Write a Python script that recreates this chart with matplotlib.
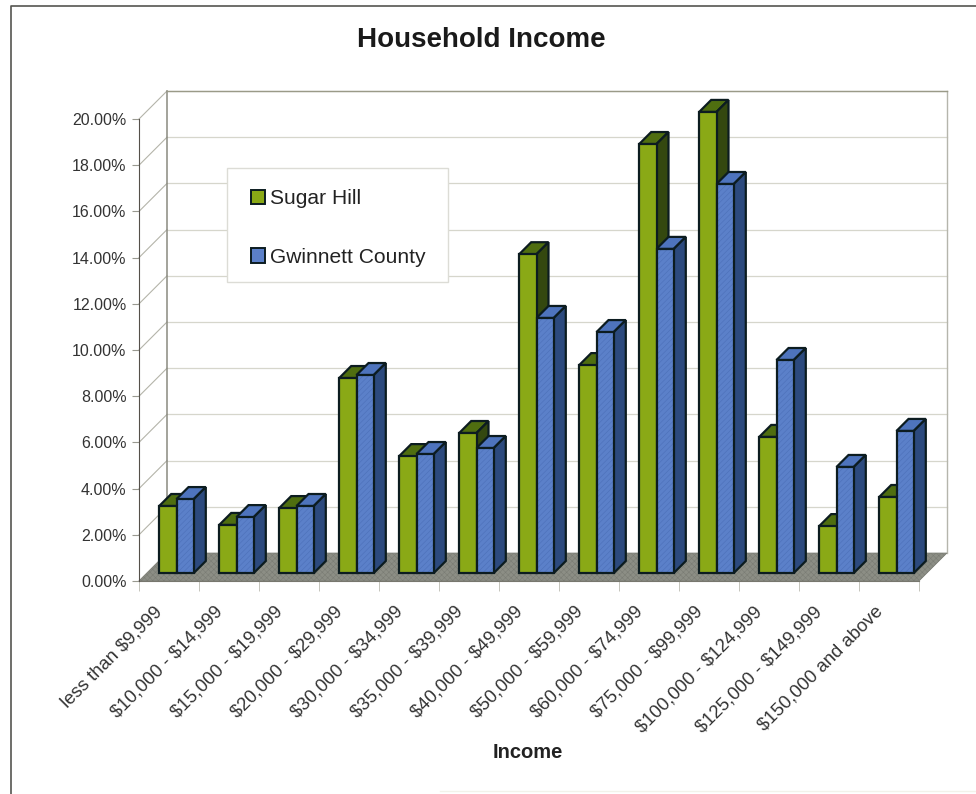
import matplotlib
matplotlib.use('Agg')
import matplotlib.pyplot as plt
from matplotlib.patches import Polygon, Patch, Rectangle
from matplotlib.transforms import Affine2D
import numpy as np

plt.rcParams['font.family'] = ['Liberation Sans', 'DejaVu Sans']
plt.rcParams['hatch.linewidth'] = 0.4
plt.rcParams['text.parse_math'] = False

categories = ['less than $9,999', '$10,000 - $14,999', '$15,000 - $19,999',
              '$20,000 - $29,999', '$30,000 - $34,999', '$35,000 - $39,999',
              '$40,000 - $49,999', '$50,000 - $59,999', '$60,000 - $74,999',
              '$75,000 - $99,999', '$100,000 - $124,999', '$125,000 - $149,999',
              '$150,000 and above']
sugar_hill = [2.9, 2.08, 2.81, 8.44, 5.06, 6.06, 13.8, 9.0, 18.57, 19.96, 5.89, 2.03, 3.29]
gwinnett = [3.2, 2.42, 2.9, 8.57, 5.15, 5.41, 11.04, 10.43, 14.03, 16.84, 9.22, 4.59, 6.15]
y_ticks = [0, 2, 4, 6, 8, 10, 12, 14, 16, 18, 20]

W, H = 976, 794
fig = plt.figure(figsize=(W / 100, H / 100), dpi=100, facecolor='white')

# axes is the front plane of the fake 3D box
left, right, bottom, top = 139, 919, 581, 119
ax = fig.add_axes([left / W, 1 - bottom / H, (right - left) / W, (bottom - top) / H])
ax.set_xlim(0, 13)
ax.set_ylim(0, 20)
ax.patch.set_visible(False)

# pixels -> data units, the depth is done in data units
px_x = 13 / (right - left)
px_y = 20 / (bottom - top)
wall_dx, wall_dy = 28 * px_x, 28 * px_y
bar_tr = ax.transData + Affine2D().translate(7.5, 8)
side_dx, side_dy = 12 * px_x, 12 * px_y

grid_col = '#d6d6cc'
edge_col = '#0c1c20'
green, blue = '#8aa916', '#5b80c9'
edge_lw = 1.6

# back wall and side wall
for y in y_ticks[1:]:
    ax.plot([wall_dx, 13 + wall_dx], [y + wall_dy, y + wall_dy], color=grid_col, lw=0.9, clip_on=False, zorder=1)
for y in y_ticks:
    ax.plot([0, wall_dx], [y, y + wall_dy], color='#b4b4aa', lw=0.8, clip_on=False, zorder=1)
ax.plot([wall_dx, wall_dx], [wall_dy, 20 + wall_dy], color='#8a8a80', lw=1.1, clip_on=False, zorder=1)
ax.plot([13 + wall_dx, 13 + wall_dx], [wall_dy, 20 + wall_dy], color='#b5b5ac', lw=1, clip_on=False, zorder=1)
ax.plot([wall_dx, 13 + wall_dx], [20 + wall_dy, 20 + wall_dy], color='#9a9a88', lw=1, clip_on=False, zorder=1)

# floor
floor = Polygon([(0, 0), (13, 0), (13 + wall_dx, wall_dy), (wall_dx, wall_dy)], closed=True,
                facecolor='#8c8e85', edgecolor='#7a7c74', hatch='xxxxxx', lw=0.5, clip_on=False, zorder=2)
ax.add_patch(floor)

# bars, drawn from the back of the picture to the front
x = np.arange(len(categories))
bar_w = 17.3 * px_x
for i in x:
    g, b = sugar_hill[i], gwinnett[i]
    x0 = i + 0.5 - bar_w
    x1 = i + 0.5
    x2 = i + 0.5 + bar_w
    kw = dict(edgecolor=edge_col, lw=edge_lw, closed=True, clip_on=False, transform=bar_tr, zorder=3 + i * 0.01)
    ax.add_patch(Polygon([(x1, g), (x1 + side_dx, g + side_dy), (x0 + side_dx, g + side_dy), (x0, g)],
                         facecolor='#4f6e10', **kw))
    ax.add_patch(Polygon([(x1, 0), (x1 + side_dx, side_dy), (x1 + side_dx, g + side_dy), (x1, g)],
                         facecolor='#34480f', **kw))
    ax.add_patch(Polygon([(x2, b), (x2 + side_dx, b + side_dy), (x1 + side_dx, b + side_dy), (x1, b)],
                         facecolor='#4e74bd', **kw))
    ax.add_patch(Polygon([(x2, 0), (x2 + side_dx, side_dy), (x2 + side_dx, b + side_dy), (x2, b)],
                         facecolor='#2c4a7e', **kw))
ax.bar(x + 0.5 - bar_w / 2, sugar_hill, bar_w, color=green, edgecolor=edge_col, lw=edge_lw,
       transform=bar_tr, clip_on=False, zorder=3.5)
# fine texture on the blue fronts, outline goes on top
ax.bar(x + 0.5 + bar_w / 2, gwinnett, bar_w, color=blue, edgecolor='#4c70b8', lw=0,
       hatch='//////', transform=bar_tr, clip_on=False, zorder=3.6)
ax.bar(x + 0.5 + bar_w / 2, gwinnett, bar_w, fill=False, edgecolor=edge_col, lw=edge_lw,
       transform=bar_tr, clip_on=False, zorder=3.7)

# axes
for s in ['top', 'right']:
    ax.spines[s].set_visible(False)
ax.spines['left'].set_color('#55504a')
ax.spines['bottom'].set_color('#77776e')
ax.spines['left'].set_zorder(4)
ax.set_yticks(y_ticks)
ax.set_yticklabels(['%.2f%%' % v for v in y_ticks], fontsize=11.5, color='#333333')
ax.tick_params(axis='y', length=5, color='#999990', pad=4)
ax.set_xticks(np.arange(14), minor=True)
ax.tick_params(axis='x', which='minor', length=7, color='#bbbbb2')
ax.set_xticks(x + 0.5)
ax.set_xticklabels(categories, fontsize=13.3, color='#333333', rotation=45, ha='right',
                   rotation_mode='anchor')
ax.tick_params(axis='x', which='major', length=0, pad=16)
for lab in ax.get_xticklabels():
    lab.set_transform(lab.get_transform() + Affine2D().translate(-15, 0))

fig.text(481 / W, 1 - 40 / H, 'Household Income', fontsize=20, fontweight='bold', color='#1a1a1a',
         ha='center', va='center')
fig.text(528 / W, 1 - 753 / H, 'Income', fontsize=14.5, fontweight='bold', color='#222222',
         ha='center', va='center')

# legend, the box is a separate patch because it is tighter than the legend pads
fig.add_artist(Rectangle((227 / W, 1 - 282 / H), 221 / W, 114 / H, transform=fig.transFigure,
                         facecolor='white', edgecolor='#dcdcd6', lw=1, zorder=4))
handles = [Patch(facecolor=green, edgecolor=edge_col, lw=1.4, label='Sugar Hill'),
           Patch(facecolor=blue, edgecolor=edge_col, lw=1.4, label='Gwinnett County')]
leg = fig.legend(handles=handles, loc='upper left', bbox_to_anchor=(228 / W, 1 - 166 / H),
                 borderaxespad=0, fontsize=15.1, frameon=False, handlelength=0.66, handleheight=0.66,
                 handletextpad=0.25, labelspacing=1.9, borderpad=1.1, labelcolor='#222222')
leg.set_zorder(5)

# page border
border = fig.add_axes([0, 0, 1, 1], zorder=-1)
border.set_xlim(0, W)
border.set_ylim(H, 0)
border.axis('off')
border.plot([11, 11, W], [H, 6, 6], color='#555550', lw=1.2)
border.plot([440, W], [791, 791], color='#f2f2ea', lw=1)

fig.savefig('out.png', dpi=100)
